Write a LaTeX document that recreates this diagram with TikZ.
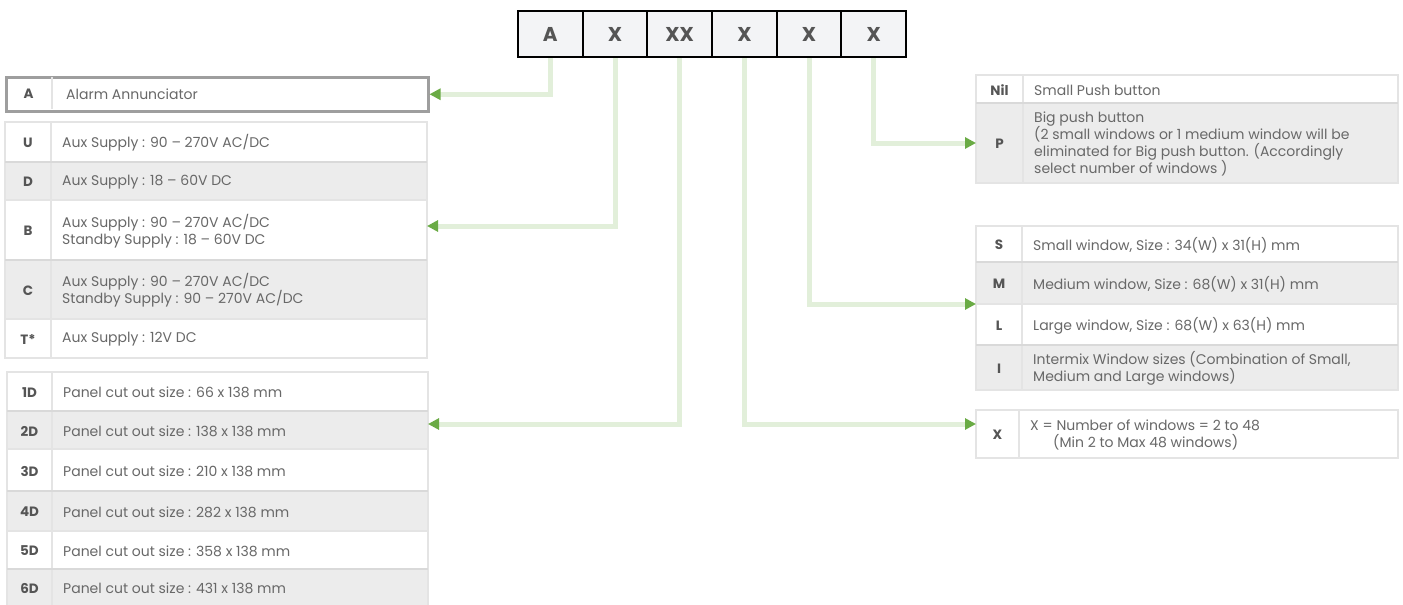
\documentclass[tikz,border=0pt]{standalone}
\usepackage{fontspec}
\setmainfont{Poppins}
\usetikzlibrary{arrows.meta}
\definecolor{txt}{HTML}{686868}
\definecolor{keyc}{HTML}{555555}
\definecolor{rowg}{HTML}{ECECEC}
\definecolor{bord}{HTML}{E4E4E4}
\definecolor{shad}{HTML}{D9D9D9}
\definecolor{lgreen}{HTML}{E2EFDA}
\definecolor{agreen}{HTML}{6AAB45}
\definecolor{hdrfill}{HTML}{F3F4F6}
\definecolor{abord}{HTML}{9E9E9E}
\newcommand\trow[9]{%
  \node[rowbox,fill=#7,minimum width={#4-#2},minimum height={#5-#3},anchor=north west] (#1) at (#2,#3) {};
  \draw[divline] (#6,#3) -- (#6,#5);
  \node[keyt] (#1k) at ({(#2+#6)/2},{(#3+#5)/2+1}) {#8};
  \node[desct] (#1t) at (#6+11,{(#3+#5)/2+1}) {#9};
}
\newcommand\gtop[3]{\draw[shadline] (#1,#3) -- (#2,#3);}
\begin{document}
\begin{tikzpicture}[x=1pt,y=-1pt,
  rowbox/.style={draw=bord,line width=1.5pt,inner sep=0pt,outer sep=0pt},
  divline/.style={draw=bord,line width=1.5pt},
  shadline/.style={draw=shad,line width=2.5pt},
  keyt/.style={font=\fontsize{13.5}{17}\selectfont\bfseries,text=keyc,inner sep=0pt},
  desct/.style={font=\fontsize{14}{17}\selectfont,text=txt,inner sep=0pt,anchor=west,align=left},
  hdr/.style={draw=black,line width=2pt,fill=hdrfill,minimum width=64.7pt,minimum height=46pt,inner sep=0pt,
    font=\fontsize{20}{24}\selectfont\bfseries,text=keyc},
  conn/.style={draw=lgreen,line width=5pt,line join=miter,-{Triangle[length=11pt,width=11pt,color=agreen]}}]
\useasboundingbox (0,0) rectangle (1403,605);
\fill[white] (0,0) rectangle (1403,605);

% header
\node[hdr] (h1) at (550.3,34) {A};
\node[hdr] (h2) at (615.0,34) {X};
\node[hdr] (h3) at (679.7,34) {XX};
\node[hdr] (h4) at (744.4,34) {X};
\node[hdr] (h5) at (809.1,34) {X};
\node[hdr] (h6) at (873.8,34) {X};

% A box
\node[draw=abord,line width=2.5pt,fill=white,minimum width=422pt,minimum height=34pt,anchor=north west,inner sep=0pt] (rowA) at (5,76) {};
\draw[divline] (52,77) -- (52,109);
\node[keyt] (rowAk) at (28.5,94) {A};
\node[desct] (rowAt) at (66,94) {Alarm Annunciator};

% supply group
\trow{rowU}{5}{122}{427}{162}{51}{white}{U}{Aux Supply : 90 – 270V AC/DC}
\trow{rowD}{5}{162}{427}{200}{51}{rowg}{D}{Aux Supply : 18 – 60V DC}
\gtop{5}{427}{162}
\trow{rowB}{5}{200}{427}{260}{51}{white}{B}{Aux Supply : 90 – 270V AC/DC\\Standby Supply : 18 – 60V DC}
\trow{rowC}{5}{260}{427}{319}{51}{rowg}{C}{Aux Supply : 90 – 270V AC/DC\\Standby Supply : 90 – 270V AC/DC}
\gtop{5}{427}{260}
\trow{rowT}{5}{319}{427}{358}{51}{white}{T*}{Aux Supply : 12V DC}

% panel group
\trow{row1}{7}{372}{428}{411}{52}{white}{1D}{Panel cut out size : 66 x 138 mm}
\trow{row2}{7}{411}{428}{449}{52}{rowg}{2D}{Panel cut out size : 138 x 138 mm}
\gtop{7}{428}{411}
\trow{row3}{7}{449}{428}{491}{52}{white}{3D}{Panel cut out size : 210 x 138 mm}
\trow{row4}{7}{491}{428}{531}{52}{rowg}{4D}{Panel cut out size : 282 x 138 mm}
\gtop{7}{428}{491}
\trow{row5}{7}{531}{428}{569}{52}{white}{5D}{Panel cut out size : 358 x 138 mm}
\trow{row6}{7}{569}{428}{606}{52}{rowg}{6D}{Panel cut out size : 431 x 138 mm}
\gtop{7}{428}{569}

% right: push button
\trow{rowNil}{976}{75}{1398}{103}{1023}{white}{Nil}{Small Push button}
\trow{rowP}{976}{103}{1398}{183}{1023}{rowg}{P}{Big push button\\(2 small windows or 1 medium window will be\\eliminated for Big push button. (Accordingly\\select number of windows )}
\gtop{976}{1398}{103}

% right: windows
\trow{rowS}{976}{226}{1398}{262}{1022}{white}{S}{Small window, Size : 34(W) x 31(H) mm}
\trow{rowM}{976}{262}{1398}{304}{1022}{rowg}{M}{Medium window, Size : 68(W) x 31(H) mm}
\gtop{976}{1398}{262}
\trow{rowL}{976}{304}{1398}{345}{1022}{white}{L}{Large window, Size : 68(W) x 63(H) mm}
\trow{rowI}{976}{345}{1398}{390}{1022}{rowg}{I}{Intermix Window sizes (Combination of Small,\\Medium and Large windows)}
\gtop{976}{1398}{345}

% right: number of windows
\trow{rowX}{976}{410}{1398}{458}{1019}{white}{X}{X = Number of windows = 2 to 48\\\hspace*{23pt}(Min 2 to Max 48 windows)}

% connectors
\draw[conn] (h1.south) |- (rowA.east);
\draw[conn] (h2.south) |- ([yshift=4pt]rowB.east);
\draw[conn] (h3.south) |- ([yshift=6pt]row2.east);
\draw[conn] (h4.south) |- ([yshift=10pt]rowX.west);
\draw[conn] (h5.south) |- (rowM.south west);
\draw[conn] (h6.south) |- (rowP.west);
\end{tikzpicture}
\end{document}
